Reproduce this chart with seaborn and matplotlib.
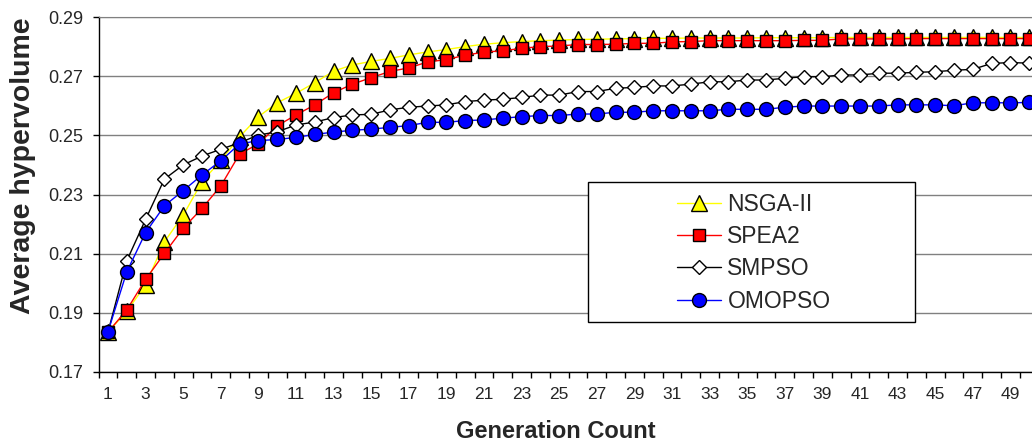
import numpy as np
import pandas as pd
import matplotlib
matplotlib.use("Agg")
import matplotlib.pyplot as plt
from matplotlib.patches import Rectangle
import seaborn as sns

# Average hypervolume per generation
generations = list(range(1, 51))

nsga2 = [0.1835, 0.1905, 0.1995, 0.2140, 0.2230, 0.2343, 0.2415, 0.2495, 0.2563, 0.2610,
         0.2642, 0.2678, 0.2717, 0.2738, 0.2750, 0.2760, 0.2772, 0.2782, 0.2790, 0.2800,
         0.2808, 0.2813, 0.2817, 0.2820, 0.2822, 0.2824, 0.2825, 0.2826, 0.2827, 0.2828,
         0.2828, 0.2829, 0.2829, 0.2829, 0.2829, 0.2830, 0.2830, 0.2830, 0.2830, 0.2831,
         0.2831, 0.2831, 0.2831, 0.2831, 0.2831, 0.2831, 0.2831, 0.2831, 0.2831, 0.2831]

spea2 = [0.1835, 0.1910, 0.2013, 0.2101, 0.2186, 0.2253, 0.2329, 0.2437, 0.2471, 0.2532,
         0.2569, 0.2603, 0.2644, 0.2673, 0.2695, 0.2716, 0.2728, 0.2748, 0.2756, 0.2771,
         0.2781, 0.2786, 0.2794, 0.2800, 0.2802, 0.2807, 0.2807, 0.2808, 0.2811, 0.2811,
         0.2816, 0.2817, 0.2820, 0.2820, 0.2820, 0.2820, 0.2820, 0.2821, 0.2821, 0.2826,
         0.2826, 0.2826, 0.2826, 0.2827, 0.2827, 0.2827, 0.2827, 0.2827, 0.2827, 0.2827]

smpso = [0.1835, 0.2076, 0.2216, 0.2352, 0.2400, 0.2430, 0.2453, 0.2475, 0.2501, 0.2512,
         0.2535, 0.2545, 0.2560, 0.2569, 0.2571, 0.2586, 0.2595, 0.2599, 0.2603, 0.2614,
         0.2619, 0.2622, 0.2628, 0.2636, 0.2636, 0.2648, 0.2648, 0.2659, 0.2662, 0.2667,
         0.2667, 0.2673, 0.2681, 0.2681, 0.2687, 0.2687, 0.2693, 0.2698, 0.2698, 0.2704,
         0.2704, 0.2710, 0.2710, 0.2713, 0.2715, 0.2720, 0.2723, 0.2743, 0.2746, 0.2744]

omopso = [0.1836, 0.2039, 0.2171, 0.2262, 0.2313, 0.2366, 0.2414, 0.2471, 0.2482, 0.2486,
          0.2493, 0.2503, 0.2511, 0.2517, 0.2521, 0.2527, 0.2533, 0.2544, 0.2544, 0.2550,
          0.2552, 0.2558, 0.2563, 0.2567, 0.2567, 0.2572, 0.2572, 0.2578, 0.2578, 0.2583,
          0.2583, 0.2583, 0.2583, 0.2588, 0.2588, 0.2588, 0.2595, 0.2599, 0.2599, 0.2599,
          0.2599, 0.2599, 0.2603, 0.2603, 0.2603, 0.2600, 0.2610, 0.2610, 0.2610, 0.2611]

series_names = ["NSGA-II", "SPEA2", "SMPSO", "OMOPSO"]
series_values = [nsga2, spea2, smpso, omopso]

# style per series: line colour, marker, face colour, marker size
styles = {
    "NSGA-II": ("#FFFF00", "^", "#FFFF00", 11),
    "SPEA2": ("#FF0000", "s", "#FF0000", 9),
    "SMPSO": ("#000000", "D", "#FFFFFF", 7.5),
    "OMOPSO": ("#0000FF", "o", "#0000FF", 10),
}

sns.set_style("white")
plt.rcParams["font.family"] = ["Liberation Sans", "DejaVu Sans"]

W, H = 1032, 443
X0, X1, Y0, Y1 = 98.6, 1032, 17, 372   # plot area in pixels
fig = plt.figure(figsize=(W / 100, H / 100), dpi=100)
ax = fig.add_axes([X0 / W, 1 - Y1 / H, (X1 - X0) / W, (Y1 - Y0) / H])

for name, vals in zip(series_names, series_values):
    color, marker, face, ms = styles[name]
    sns.lineplot(x=generations, y=vals, ax=ax, color=color, marker=marker,
                 markersize=ms, markerfacecolor=face, markeredgecolor="black",
                 markeredgewidth=1.0, linewidth=1.0, label=name, legend=False,
                 zorder=3)

# the original chart is cut off just past the last generation
ax.set_xlim(0.5, 50.15)
ax.set_ylim(0.17, 0.29)

# y axis
ax.set_yticks(np.arange(0.17, 0.2901, 0.02))
ax.yaxis.set_major_formatter(matplotlib.ticker.FormatStrFormatter("%.2f"))
ax.tick_params(axis="y", which="major", direction="out", length=4, width=1,
               color="black", labelsize=13, pad=7, left=True)
ax.yaxis.grid(True, color="#808080", linewidth=1.0)
ax.set_axisbelow(True)

# x axis: ticks between categories, labels on odd generations
ax.set_xticks(np.arange(0.5, 50.2, 1))
ax.set_xticklabels([])
ax.set_xticks(generations[::2], minor=True)
ax.set_xticklabels([str(g) for g in generations[::2]], minor=True)
ax.tick_params(axis="x", which="major", direction="out", length=4, width=1,
               color="black", bottom=True)
ax.tick_params(axis="x", which="minor", length=0, labelsize=12.5, pad=11)

for side in ["left", "bottom"]:
    ax.spines[side].set_color("black")
    ax.spines[side].set_linewidth(1.0)
ax.spines["right"].set_visible(False)
ax.spines["top"].set_color("#808080")

pw, ph = X1 - X0, Y1 - Y0
ax.set_xlabel("Generation Count", fontsize=17, fontweight="bold")
ax.xaxis.set_label_coords((556 - X0) / pw, (Y1 - 432) / ph)
ax.xaxis.label.set_va("center")
ax.set_ylabel("Average hypervolume", fontsize=20.5, fontweight="bold")
ax.yaxis.set_label_coords((23 - X0) / pw, (Y1 - 166) / ph)
ax.yaxis.label.set_va("center")

# legend box drawn separately (Excel-style wide padding)
box = Rectangle(((588 - X0) / pw, (Y1 - 322) / ph), (915 - 588) / pw, 140 / ph,
                transform=ax.transAxes, facecolor="white", edgecolor="black",
                linewidth=1.0, zorder=4)
ax.add_patch(box)
handles, labels = ax.get_legend_handles_labels()
leg = ax.legend(handles, labels, loc="center left",
                bbox_to_anchor=((677 - X0) / pw, (Y1 - 252.8) / ph),
                frameon=False, fontsize=16.5, handlelength=1.9, handletextpad=0.3,
                labelspacing=0.4, borderpad=0, borderaxespad=0)
leg.set_zorder(5)

fig.savefig("out.png", dpi=100)
